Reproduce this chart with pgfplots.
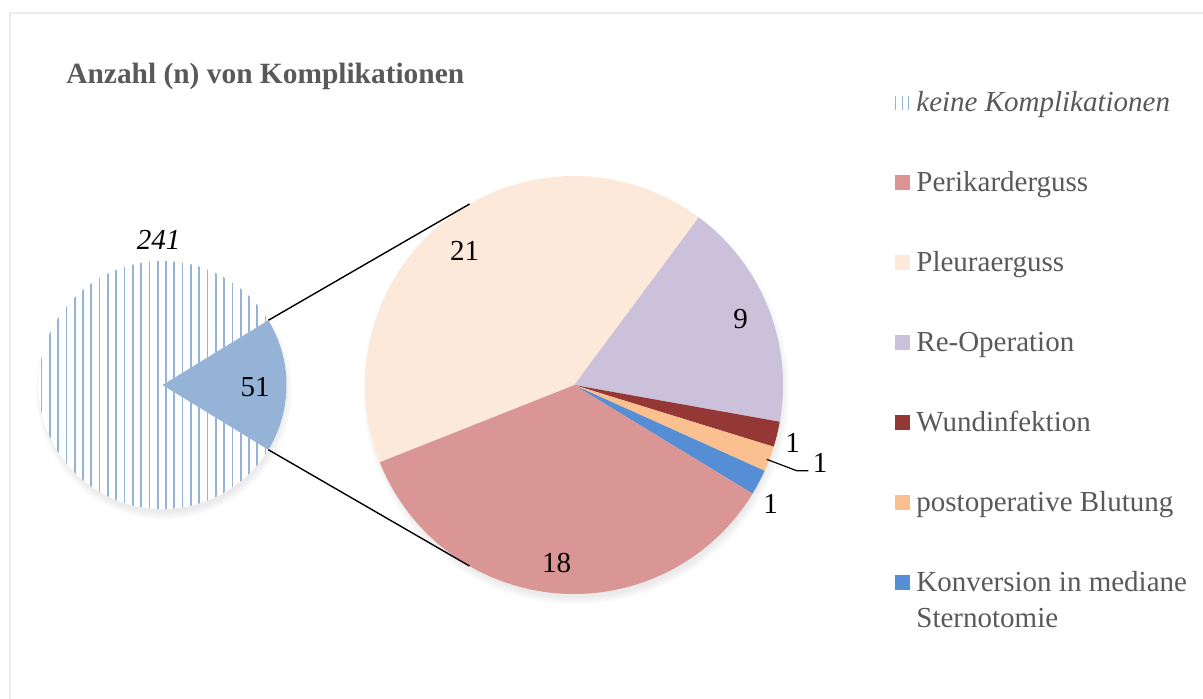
\documentclass[border=0pt]{standalone}
\usepackage{fontspec}
\setmainfont{Liberation Serif}
\usepackage{pgfplots}
\pgfplotsset{compat=1.18}
\usetikzlibrary{patterns.meta}
\definecolor{hatch}{HTML}{95B3D7}
\definecolor{cPeri}{HTML}{D99694}
\definecolor{cPleu}{HTML}{FDE9D9}
\definecolor{cRe}{HTML}{CCC1DA}
\definecolor{cWund}{HTML}{953735}
\definecolor{cBlut}{HTML}{FAC090}
\definecolor{cKonv}{HTML}{558ED5}
\definecolor{txtgray}{HTML}{595959}
\definecolor{bordergray}{HTML}{EDEDED}
\begin{document}
\begin{tikzpicture}
% ---- data (counts) ----
\def\vKeine{241}\def\vKompl{51}
\def\vRe{9}\def\vWund{1}\def\vBlut{1}\def\vKonv{1}\def\vPeri{18}\def\vPleu{21}
% ---- geometry (pixels) ----
\def\cxL{162.5}\def\cyL{385}\def\rL{124}
\def\cxR{574}\def\cyR{385}\def\rR{209}
\pgfmathsetmacro\halfL{\vKompl/(\vKeine+\vKompl)*180}
\pgfmathsetmacro\restS{\halfL}
\pgfmathsetmacro\restE{360-\halfL}
\pgfmathsetmacro\tot{\vRe+\vWund+\vBlut+\vKonv+\vPeri+\vPleu}
\pgfmathsetmacro\aA{53.4}
\pgfmathsetmacro\aB{\aA-\vRe/\tot*360}
\pgfmathsetmacro\aC{\aB-\vWund/\tot*360}
\pgfmathsetmacro\aD{\aC-\vBlut/\tot*360}
\pgfmathsetmacro\aE{\aD-\vKonv/\tot*360}
\pgfmathsetmacro\aF{\aE-\vPeri/\tot*360}
\pgfmathsetmacro\aG{\aF-\vPleu/\tot*360}
\begin{axis}[width=601.5pt,height=349pt,scale only axis,
  xmin=0,xmax=1203,ymin=0,ymax=698,y dir=reverse,hide axis,clip=false]
% border
\draw[bordergray,line width=1pt] (axis cs:9.5,760) -- (axis cs:9.5,12.5) -- (axis cs:1260,12.5);
% soft shadows
\fill[black,opacity=0.02] (axis cs:164,391) circle[radius=61pt];
\fill[black,opacity=0.02] (axis cs:164,391) circle[radius=62pt];
\fill[black,opacity=0.02] (axis cs:164,391) circle[radius=63pt];
\fill[black,opacity=0.02] (axis cs:164,391) circle[radius=64pt];
\fill[black,opacity=0.02] (axis cs:576,391) circle[radius=103.5pt];
\fill[black,opacity=0.02] (axis cs:576,391) circle[radius=104.5pt];
\fill[black,opacity=0.02] (axis cs:576,391) circle[radius=105.5pt];
\fill[black,opacity=0.02] (axis cs:576,391) circle[radius=106.5pt];
% left pie
\addplot[fill=white,draw=none,domain=\restS:\restE,samples=120,
  postaction={pattern={Lines[angle=90,distance=4.15pt,line width=0.85pt]},pattern color=hatch}]
  ({\cxL+\rL*cos(x)},{\cyL-\rL*sin(x)}) -- (axis cs:\cxL,\cyL) -- cycle;
\addplot[fill=hatch,draw=none,domain=-\halfL:\halfL,samples=40]
  ({\cxL+\rL*cos(x)},{\cyL-\rL*sin(x)}) -- (axis cs:\cxL,\cyL) -- cycle;
% right pie
\addplot[fill=cRe,draw=none,domain=\aB:\aA,samples=60]
  ({\cxR+\rR*cos(x)},{\cyR-\rR*sin(x)}) -- (axis cs:\cxR,\cyR) -- cycle;
\addplot[fill=cWund,draw=none,domain=\aC:\aB,samples=10]
  ({\cxR+\rR*cos(x)},{\cyR-\rR*sin(x)}) -- (axis cs:\cxR,\cyR) -- cycle;
\addplot[fill=cBlut,draw=none,domain=\aD:\aC,samples=10]
  ({\cxR+\rR*cos(x)},{\cyR-\rR*sin(x)}) -- (axis cs:\cxR,\cyR) -- cycle;
\addplot[fill=cKonv,draw=none,domain=\aE:\aD,samples=10]
  ({\cxR+\rR*cos(x)},{\cyR-\rR*sin(x)}) -- (axis cs:\cxR,\cyR) -- cycle;
\addplot[fill=cPeri,draw=none,domain=\aF:\aE,samples=100]
  ({\cxR+\rR*cos(x)},{\cyR-\rR*sin(x)}) -- (axis cs:\cxR,\cyR) -- cycle;
\addplot[fill=cPleu,draw=none,domain=\aG:\aF,samples=120]
  ({\cxR+\rR*cos(x)},{\cyR-\rR*sin(x)}) -- (axis cs:\cxR,\cyR) -- cycle;
% connector lines
\draw[black,line width=0.7pt] (axis cs:268.3,320.3) -- (axis cs:469.5,204);
\draw[black,line width=0.7pt] (axis cs:268.3,449.7) -- (axis cs:469.5,566);
\draw[black,line width=0.6pt] (axis cs:766.7,459.3) -- (axis cs:796.7,470.7) -- (axis cs:808.3,470.7);
% data labels
\begin{scope}[every node/.style={inner sep=0,font=\fontsize{14.5}{17}\selectfont}]
\node at (axis cs:158.5,239.5) {\itshape 241};
\node at (axis cs:255,387) {51};
\node at (axis cs:464.5,250.5) {21};
\node at (axis cs:740.5,319) {9};
\node at (axis cs:792.5,442.5) {1};
\node at (axis cs:820,462.5) {1};
\node at (axis cs:770.5,504) {1};
\node at (axis cs:556.7,563) {18};
\end{scope}
% title
\node[anchor=base west,inner sep=0,text=txtgray,font=\bfseries\fontsize{14.7}{17}\selectfont]
  at (axis cs:66,83.3) {Anzahl (n) von Komplikationen};
% legend
\draw[hatch,line width=0.5pt] (axis cs:895.5,96) -- (axis cs:895.5,110)
  (axis cs:902,96) -- (axis cs:902,110) (axis cs:908.5,96) -- (axis cs:908.5,110);
\fill[cPeri] (axis cs:895,175) rectangle (axis cs:910,190);
\fill[cPleu] (axis cs:895,255) rectangle (axis cs:910,270);
\fill[cRe]   (axis cs:895,335) rectangle (axis cs:910,350);
\fill[cWund] (axis cs:895,415) rectangle (axis cs:910,430);
\fill[cBlut] (axis cs:895,495) rectangle (axis cs:910,510);
\fill[cKonv] (axis cs:895,575) rectangle (axis cs:910,590);
\begin{scope}[every node/.style={anchor=base west,inner sep=0,text=txtgray,font=\fontsize{14.5}{17}\selectfont}]
\node at (axis cs:916,111.7) {\itshape keine Komplikationen};
\node at (axis cs:916,191.7) {Perikarderguss};
\node at (axis cs:916,271.7) {Pleuraerguss};
\node at (axis cs:916,351.7) {Re-Operation};
\node at (axis cs:916,431.7) {Wundinfektion};
\node at (axis cs:916,511.7) {postoperative Blutung};
\node at (axis cs:916,591.7) {Konversion in mediane};
\node at (axis cs:916,627.3) {Sternotomie};
\end{scope}
\end{axis}
\pgfresetboundingbox
\path[use as bounding box] (current axis.south west) rectangle (current axis.north east);
\end{tikzpicture}
\end{document}
